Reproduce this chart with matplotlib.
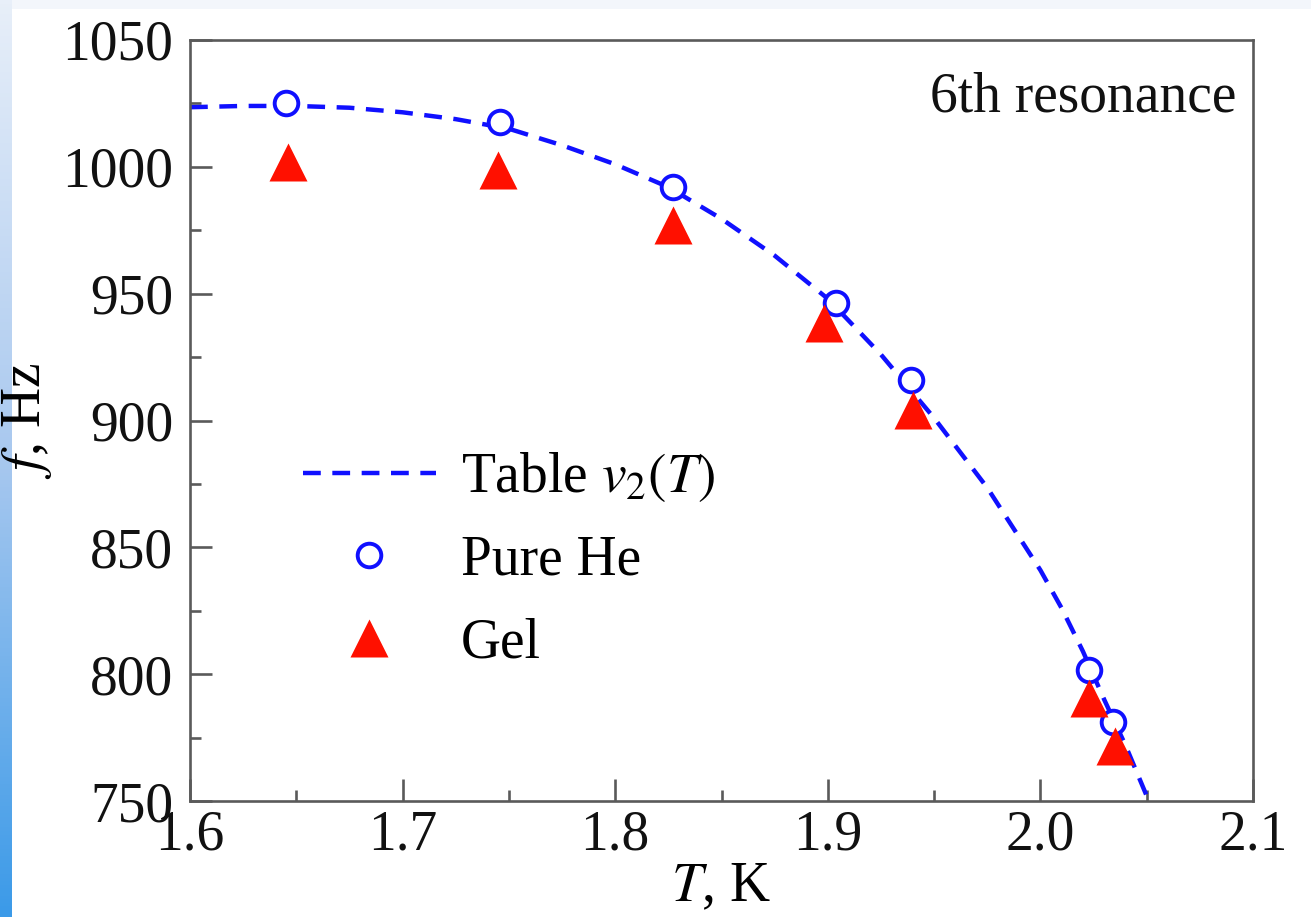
import numpy as np
import matplotlib
matplotlib.use("Agg")
import matplotlib.pyplot as plt
from matplotlib.ticker import MultipleLocator
from matplotlib.colors import LinearSegmentedColormap

plt.rcParams['font.family'] = ['Liberation Serif', 'DejaVu Serif']
plt.rcParams['mathtext.fontset'] = 'stix'

# table v2(T) curve
curve_T = [1.600, 1.625, 1.650, 1.675, 1.700, 1.725, 1.750, 1.775, 1.800, 1.825,
           1.850, 1.875, 1.900, 1.925, 1.950, 1.975, 2.000, 2.010, 2.020, 2.030,
           2.040, 2.050, 2.053]
curve_f = [1023.5, 1024.0, 1024.0, 1023.3, 1021.5, 1018.8, 1015.0, 1008.5, 1001.0, 992.0,
           979.5, 965.0, 948.0, 926.0, 901.0, 873.5, 841.0, 826.0, 809.0, 790.0,
           772.0, 752.0, 745.0]

# pure He points
he_T = [1.645, 1.746, 1.827, 1.904, 1.939, 2.023, 2.034]
he_f = [1025.0, 1017.8, 992.1, 946.3, 916.0, 801.7, 781.2]

# gel points
gel_T = [1.646, 1.745, 1.827, 1.898, 1.940, 2.023, 2.035]
gel_f = [1001.9, 998.6, 976.9, 938.5, 904.2, 790.8, 771.7]

fig = plt.figure(figsize=(13.11, 9.17), dpi=100)

# slide background strips
cmap = LinearSegmentedColormap.from_list('strip', ['#e8eff9', '#a8c8ef', '#3b9ae8'])
bg = fig.add_axes([0, 0, 12 / 1311, 1])
bg.imshow(np.linspace(0, 1, 256).reshape(-1, 1), aspect='auto', cmap=cmap)
bg.axis('off')
top = fig.add_axes([12 / 1311, 1 - 9 / 917, 1 - 12 / 1311, 9 / 917])
top.set_facecolor('#f3f6fb')
top.set_xticks([])
top.set_yticks([])
for s in top.spines.values():
    s.set_visible(False)

ax = fig.add_axes([190 / 1311, 1 - 801 / 917, (1253 - 190) / 1311, (801 - 40) / 917])

ax.plot(curve_T, curve_f, color='#1010ff', ls=(0, (4.0, 2.6)), lw=3.2, label='Table $v_2(T)$', zorder=2)
ax.plot(he_T, he_f, 'o', ms=17, mfc='white', mec='#1010ff', mew=2.8, ls='none', label='Pure He', zorder=3)
ax.plot(gel_T, gel_f, '^', ms=28, color='#ff1000', mec='none', ls='none', label='Gel', zorder=4)

ax.set_xlim(1.6, 2.1)
ax.set_ylim(750, 1050)
ax.xaxis.set_major_locator(MultipleLocator(0.1))
ax.xaxis.set_minor_locator(MultipleLocator(0.05))
ax.yaxis.set_major_locator(MultipleLocator(50))
ax.yaxis.set_minor_locator(MultipleLocator(25))
ax.set_xticklabels([f'{v:.1f}' for v in ax.get_xticks()])

for s in ax.spines.values():
    s.set_color('#5a5a5a')
    s.set_linewidth(1.9)
ax.tick_params(which='both', direction='in', color='#5a5a5a', width=1.9,
               labelsize=40, labelcolor='#111111', top=False, right=False)
ax.tick_params(which='major', length=16)
ax.tick_params(which='minor', length=8)
ax.tick_params(axis='y', which='major', pad=12)
ax.tick_params(axis='x', which='major', pad=6)

ax.set_xlabel('$T$, K', fontsize=40, labelpad=0)
ax.set_ylabel('$f$, Hz', fontsize=40, labelpad=6)

ax.text(0.984, 0.925, '6th resonance', transform=ax.transAxes, ha='right', va='center',
        fontsize=40, color='#111111')

ax.legend(loc='upper left', bbox_to_anchor=(0.085, 0.49), frameon=False, fontsize=40,
          handlelength=2.4, handletextpad=0.45, labelspacing=0.55, borderaxespad=0)

fig.savefig('out.png', dpi=100, facecolor='white')
